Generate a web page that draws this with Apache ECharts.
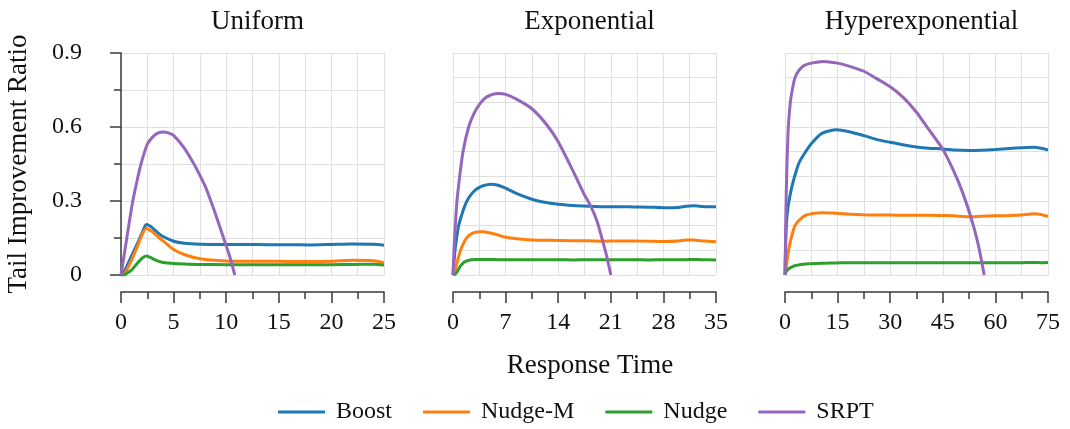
<!DOCTYPE html>
<html>
<head>
<meta charset="utf-8">
<script src="https://cdn.jsdelivr.net/npm/echarts@6/dist/echarts.min.js"></script>
<style>
html, body { margin: 0; padding: 0; background: #fff; }
#container { width: 1070px; height: 429px; }
</style>
</head>
<body>
<div id="container"></div>
<script>
// panel names and axis ticks
var panels = ['Uniform', 'Exponential', 'Hyperexponential'];
var seriesNames = ['Boost', 'Nudge-M', 'Nudge', 'SRPT'];
var yTicks = [0, 0.3, 0.6, 0.9];
var uniformTicks = [0, 5, 10, 15, 20, 25];
var expTicks = [0, 7, 14, 21, 28, 35];
var hyperTicks = [0, 15, 30, 45, 60, 75];

// Uniform
var uniformX = [0, 0.3, 0.6, 1, 1.5, 2, 2.4, 2.8, 3.2, 3.6, 4, 5, 6, 7.5, 10, 12, 14, 16, 18, 20, 22, 24, 25];
var uniformBoost = [0, 0.015, 0.04, 0.077, 0.122, 0.17, 0.205, 0.198, 0.183, 0.168, 0.156, 0.137, 0.129, 0.125, 0.124, 0.124, 0.123, 0.123, 0.122, 0.124, 0.126, 0.125, 0.121];
var uniformNudgeM = [0, 0.003, 0.025, 0.06, 0.11, 0.163, 0.19, 0.18, 0.167, 0.152, 0.138, 0.103, 0.083, 0.066, 0.057, 0.056, 0.056, 0.055, 0.055, 0.056, 0.06, 0.058, 0.05];
var uniformNudge = [0, 0, 0.008, 0.02, 0.045, 0.068, 0.077, 0.071, 0.062, 0.055, 0.051, 0.047, 0.045, 0.043, 0.042, 0.042, 0.042, 0.042, 0.042, 0.042, 0.043, 0.044, 0.04];
var uniformSrptX = [0, 0.3, 0.57, 1.1, 1.5, 1.9, 2.5, 3, 3.5, 4, 4.5, 5, 6, 7, 7.5, 8, 8.54, 9, 9.75, 10.3, 10.82];
var uniformSrpt = [0, 0.08, 0.155, 0.295, 0.377, 0.45, 0.53, 0.559, 0.575, 0.58, 0.576, 0.566, 0.515, 0.445, 0.404, 0.36, 0.3, 0.245, 0.15, 0.08, 0];

// Exponential
var expX = [0, 0.27, 0.53, 0.75, 1, 1.5, 2, 2.5, 3, 3.5, 4, 5, 6, 7, 8.5, 10.5, 12, 14, 16, 18, 20, 22, 24, 26, 28, 30, 31, 32, 33, 35];
var expBoost = [0, 0.1, 0.16, 0.2, 0.228, 0.275, 0.308, 0.33, 0.345, 0.355, 0.362, 0.368, 0.364, 0.352, 0.33, 0.307, 0.296, 0.287, 0.282, 0.279, 0.277, 0.277, 0.276, 0.275, 0.273, 0.274, 0.279, 0.281, 0.278, 0.277];
var expNudgeM = [0, 0.02, 0.05, 0.075, 0.1, 0.135, 0.157, 0.168, 0.173, 0.175, 0.175, 0.17, 0.162, 0.153, 0.147, 0.142, 0.141, 0.14, 0.139, 0.139, 0.137, 0.138, 0.138, 0.137, 0.136, 0.138, 0.142, 0.142, 0.139, 0.135];
var expNudge = [0, 0.004, 0.012, 0.024, 0.037, 0.053, 0.059, 0.062, 0.063, 0.063, 0.063, 0.063, 0.062, 0.062, 0.062, 0.062, 0.062, 0.062, 0.061, 0.062, 0.062, 0.062, 0.062, 0.061, 0.062, 0.062, 0.062, 0.063, 0.062, 0.061];
var expSrptX = [0, 0.13, 0.31, 0.53, 0.89, 1.33, 2.08, 2.8, 3.5, 4.5, 6, 7, 8.5, 10.5, 12.5, 14, 16, 17.5, 18.4, 19.2, 19.9, 20.5, 21];
var expSrpt = [0, 0.1, 0.2, 0.3, 0.4, 0.5, 0.6, 0.655, 0.691, 0.722, 0.736, 0.732, 0.712, 0.674, 0.608, 0.54, 0.42, 0.325, 0.275, 0.215, 0.14, 0.07, 0];

// Hyperexponential
var hyperX = [0, 0.15, 0.38, 0.7, 1.14, 2, 2.85, 4, 5.9, 7.5, 10.4, 14.7, 18, 22.5, 26, 30, 34, 37.5, 41, 45, 48, 52.5, 56, 60, 64, 67.5, 71, 73, 75];
var hyperBoost = [0, 0.1, 0.2, 0.258, 0.3, 0.36, 0.405, 0.455, 0.5, 0.532, 0.573, 0.589, 0.582, 0.565, 0.55, 0.538, 0.527, 0.519, 0.514, 0.511, 0.507, 0.505, 0.506, 0.509, 0.513, 0.516, 0.518, 0.514, 0.507];
var hyperNudgeM = [0, 0.012, 0.035, 0.07, 0.11, 0.163, 0.2, 0.222, 0.243, 0.248, 0.252, 0.25, 0.247, 0.244, 0.243, 0.243, 0.242, 0.242, 0.242, 0.241, 0.24, 0.236, 0.238, 0.24, 0.241, 0.243, 0.248, 0.245, 0.237];
var hyperNudge = [0, 0.008, 0.014, 0.02, 0.026, 0.033, 0.038, 0.041, 0.045, 0.046, 0.048, 0.049, 0.05, 0.05, 0.05, 0.05, 0.05, 0.05, 0.05, 0.05, 0.05, 0.05, 0.05, 0.05, 0.05, 0.05, 0.051, 0.05, 0.051];
var hyperSrptX = [0, 0.1, 0.19, 0.3, 0.47, 0.7, 0.95, 1.52, 2.2, 2.85, 4, 5.5, 7.5, 10.9, 15, 18, 22.5, 26, 30, 33.7, 37.5, 41, 45, 48, 50.5, 53, 55, 56.8];
var hyperSrpt = [0, 0.1, 0.2, 0.29, 0.4, 0.51, 0.6, 0.7, 0.76, 0.8, 0.83, 0.85, 0.859, 0.866, 0.859, 0.848, 0.826, 0.797, 0.763, 0.72, 0.66, 0.59, 0.51, 0.425, 0.34, 0.235, 0.13, 0];

var colors = ['#1f77b4', '#ff7f0e', '#2ca02c', '#9467bd'];
var font = 'Liberation Serif';
var axisColor = '#3a3a3a';
var gridColor = '#e0e0e0';

var dom = document.getElementById('container');
var myChart = echarts.init(dom);

var lefts = [121, 453, 785];
var plotW = 263;
var tickSets = [uniformTicks, expTicks, hyperTicks];

function pairs(xs, ys) {
    return xs.map(function (x, i) { return [x, ys[i]]; });
}

var data = [
    [pairs(uniformX, uniformBoost), pairs(uniformX, uniformNudgeM), pairs(uniformX, uniformNudge), pairs(uniformSrptX, uniformSrpt)],
    [pairs(expX, expBoost), pairs(expX, expNudgeM), pairs(expX, expNudge), pairs(expSrptX, expSrpt)],
    [pairs(hyperX, hyperBoost), pairs(hyperX, hyperNudgeM), pairs(hyperX, hyperNudge), pairs(hyperSrptX, hyperSrpt)]
];

var grids = [], xAxes = [], yAxes = [], series = [], titles = [];

for (var p = 0; p < 3; p++) {
    var ticks = tickSets[p];
    grids.push({ left: lefts[p], top: 53, width: plotW, height: 222 });
    titles.push({
        text: panels[p],
        left: lefts[p] + plotW / 2,
        textAlign: 'center',
        top: 3,
        textStyle: { fontFamily: font, fontSize: 27, fontWeight: 'normal', color: '#111' }
    });
    xAxes.push({
        gridIndex: p,
        type: 'value',
        min: ticks[0],
        max: ticks[ticks.length - 1],
        interval: ticks[1] - ticks[0],
        position: 'bottom',
        offset: 17,
        axisLine: { show: true, onZero: false, lineStyle: { color: axisColor, width: 1.5 } },
        axisTick: { show: true, length: 11, lineStyle: { color: axisColor, width: 1.5 } },
        minorTick: { show: true, splitNumber: 2, length: 7, lineStyle: { color: axisColor, width: 1.5 } },
        axisLabel: { fontFamily: font, fontSize: 24, color: '#111', margin: 19 },
        splitLine: { show: true, lineStyle: { color: gridColor, width: 1 } },
        minorSplitLine: { show: true, lineStyle: { color: gridColor, width: 1 } }
    });
    if (p === 0) {
        yAxes.push({
            gridIndex: p,
            type: 'value',
            min: yTicks[0],
            max: yTicks[yTicks.length - 1],
            interval: yTicks[1] - yTicks[0],
            offset: 17,
            name: 'Tail Improvement Ratio',
            nameLocation: 'middle',
            nameGap: 72,
            nameTextStyle: { fontFamily: font, fontSize: 27, color: '#111' },
            axisLine: { show: true, lineStyle: { color: axisColor, width: 1.5 } },
            axisTick: { show: true, length: 11, lineStyle: { color: axisColor, width: 1.5 } },
            minorTick: { show: true, splitNumber: 2, length: 7, lineStyle: { color: axisColor, width: 1.5 } },
            axisLabel: { fontFamily: font, fontSize: 24, color: '#111', margin: 22 },
            splitLine: { show: true, lineStyle: { color: gridColor, width: 1 } },
            minorSplitLine: { show: true, lineStyle: { color: gridColor, width: 1 } }
        });
    } else {
        yAxes.push({
            gridIndex: p,
            type: 'value',
            min: 0,
            max: 0.9,
            interval: 0.1,
            axisLine: { show: false },
            axisTick: { show: false },
            axisLabel: { show: false },
            splitLine: { show: true, lineStyle: { color: gridColor, width: 1 } }
        });
    }
    for (var s = 0; s < 4; s++) {
        series.push({
            name: seriesNames[s],
            type: 'line',
            xAxisIndex: p,
            yAxisIndex: p,
            data: data[p][s],
            symbol: 'none',
            smooth: 0.25,
            clip: true,
            lineStyle: { width: 3, color: colors[s] },
            itemStyle: { color: colors[s] }
        });
    }
}

titles.push({
    text: 'Response Time',
    left: 585,
    textAlign: 'center',
    top: 347,
    textStyle: { fontFamily: font, fontSize: 27, fontWeight: 'normal', color: '#111' }
});

option = {
    backgroundColor: '#fff',
    animation: false,
    title: titles,
    legend: {
        data: seriesNames,
        left: 273,
        top: 395,
        icon: 'rect',
        itemWidth: 47,
        itemHeight: 3,
        itemGap: 31,
        textStyle: { fontFamily: font, fontSize: 24, color: '#111', padding: [0, 0, 0, 6] }
    },
    grid: grids,
    xAxis: xAxes,
    yAxis: yAxes,
    series: series
};

myChart.setOption(option, true);
</script>
</body>
</html>
